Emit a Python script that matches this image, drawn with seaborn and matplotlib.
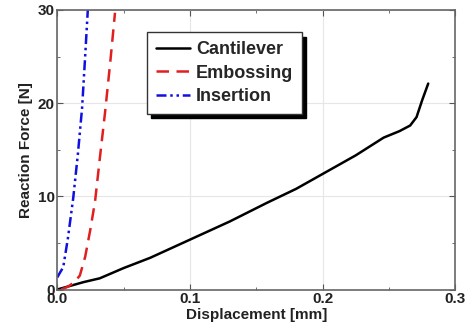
import pandas as pd
import matplotlib.pyplot as plt
import seaborn as sns

# Curve values
cantilever_x = [0.0, 0.010, 0.020, 0.032, 0.050, 0.070, 0.100, 0.130, 0.158, 0.180, 0.200, 0.225, 0.246, 0.258, 0.266, 0.2708, 0.275, 0.2796]
cantilever_y = [0.0, 0.4, 0.8, 1.2, 2.3, 3.4, 5.35, 7.3, 9.3, 10.8, 12.4, 14.4, 16.3, 17.0, 17.6, 18.5, 20.3, 22.1]

embossing_x = [0.003, 0.008, 0.013, 0.017, 0.021, 0.025, 0.0285, 0.032, 0.036, 0.040, 0.0435]
embossing_y = [0.0, 0.3, 0.8, 1.5, 3.5, 6.5, 9.5, 14.0, 19.0, 24.5, 29.7]

insertion_x = [0.0, 0.002, 0.0045, 0.008, 0.012, 0.0155, 0.0187, 0.021, 0.023]
insertion_y = [1.3, 1.8, 2.4, 5.5, 9.8, 14.5, 19.5, 25.0, 30.0]

df = pd.concat([
    pd.DataFrame({'x': cantilever_x, 'y': cantilever_y, 'case': 'Cantilever'}),
    pd.DataFrame({'x': embossing_x, 'y': embossing_y, 'case': 'Embossing'}),
    pd.DataFrame({'x': insertion_x, 'y': insertion_y, 'case': 'Insertion'}),
])

sns.set_style('ticks')
plt.rcParams['font.family'] = ['Liberation Sans', 'DejaVu Sans']
plt.rcParams['font.weight'] = 'bold'

fig = plt.figure(figsize=(4.65, 3.32), dpi=100)
ax = fig.add_axes([0.1232, 0.128, 0.8559, 0.842])

palette = {'Cantilever': 'black', 'Embossing': '#e02020', 'Insertion': '#1010e0'}
styles = {'Cantilever': '', 'Embossing': (5, 3), 'Insertion': (4, 1.5, 1, 1.5, 1, 1.5)}
sns.lineplot(data=df, x='x', y='y', hue='case', style='case', palette=palette,
             dashes=styles, sort=False, estimator=None, linewidth=1.8, ax=ax)

ax.set_xlim(0, 0.3)
ax.set_ylim(0, 30)
ax.set_xticks([0, 0.1, 0.2, 0.3])
ax.set_xticklabels(['0.0', '0.1', '0.2', '0.3'])
ax.set_yticks([0, 10, 20, 30])
ax.set_xticks([0.05, 0.15, 0.25], minor=True)
ax.set_yticks([5, 15, 25], minor=True)
ax.grid(True, which='major', color='#e6e6e6', linewidth=0.8)
ax.tick_params(which='both', direction='in', top=True, right=True, colors='#555555',
               labelcolor='#222222', labelsize=11)
ax.tick_params(which='major', length=4, pad=2)
ax.tick_params(which='minor', length=2)
for s in ax.spines.values():
    s.set_color('#666666')
    s.set_linewidth(1.2)

ax.set_xlabel('Displacement [mm]', fontsize=11, fontweight='bold', color='#222222', labelpad=1)
ax.set_ylabel('Reaction Force [N]', fontsize=11, fontweight='bold', color='#222222', labelpad=3)

leg = ax.legend(title=None, loc='upper left', bbox_to_anchor=(0.203, 0.952), frameon=True,
                fancybox=False, shadow={'color': 'black', 'alpha': 1, 'ox': 3, 'oy': -3},
                fontsize=13, handlelength=1.9, handletextpad=0.3, borderpad=0.5,
                labelspacing=0.35, edgecolor='#333333')
leg.get_frame().set_linewidth(1.0)
for t in leg.get_texts():
    t.set_fontweight('bold')

plt.savefig('out.png', dpi=100)
